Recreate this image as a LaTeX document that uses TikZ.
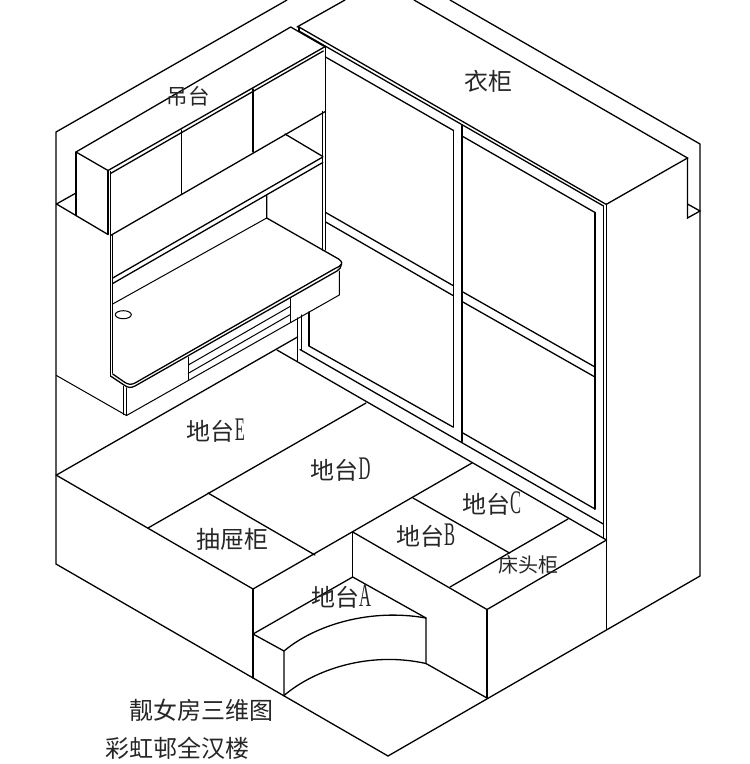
\documentclass[tikz,border=0pt]{standalone}
\usepackage{fontspec}
\setmainfont{Liberation Serif}
\newfontfamily\cjk{Noto Sans CJK SC}
\tikzset{
  ln/.style={line width=1.3pt,line cap=round,line join=miter},
  thk/.style={line width=1.7pt,line cap=round,line join=miter},
  fine/.style={line width=1pt,line cap=round,line join=round},
  lab/.style={inner sep=0pt,text=black!85},
  big/.style={lab,font=\cjk\fontsize{24}{26}\selectfont},
  mid/.style={lab,font=\cjk\fontsize{21.5}{24}\selectfont},
  sml/.style={lab,font=\cjk\fontsize{20}{22}\selectfont}
}
\newcommand{\ltr}[1]{{\fontspec{Liberation Serif}\addfontfeature{FakeStretch=0.5}\fontsize{33}{33}\selectfont #1}}
\begin{document}
\begin{tikzpicture}[x=1pt,y=-1pt]
\useasboundingbox[fill=white] (0,0) rectangle (750,764);
% outer shell
\draw[ln] (287,0) -- (56,132) -- (56,564) -- (388,756) -- (700,576) -- (700,144) -- (450,0);
\draw[ln] (297,27) -- (345,0);
% wardrobe top
\draw[ln] (414,0) -- (687.5,158) -- (606,204.5);
\draw[ln] (687.5,158) -- (687.5,218) -- (700,211) -- (687.5,204);
\draw[ln] (299,27) -- (605.5,204);
\draw[ln] (299,31) -- (603.5,206);
\draw[ln] (299,27) -- (299,31);
\draw[thk] (606.5,204) -- (606.5,629);
\draw[ln] (603.3,206) -- (603.3,538);
% doors
\draw[ln] (325.5,57) -- (453.5,130.5);
\draw[thk] (453.5,130.5) -- (453.5,427);
\draw[thk] (462,125.5) -- (462,441.5);
\draw[ln] (462,136) -- (595,212.5);
\draw[thk] (595,212.5) -- (595,509);
\draw[ln] (325.7,212.5) -- (453,285.5);
\draw[ln] (325.7,222) -- (453,295.5);
\draw[ln] (462,291.5) -- (595,367);
\draw[ln] (462,301.5) -- (595,377);
\draw[ln] (309,346) -- (453,427);
\draw[ln] (462,432.5) -- (595,509);
\draw[ln] (300,349.5) -- (603.3,524);
\draw[ln] (277,350) -- (606.5,540);
\draw[ln] (309,312) -- (309,346);
\draw[ln] (301.5,315) -- (301.5,350);
\draw[ln] (297.5,318) -- (297.5,361.5);
% floor platform
\draw[ln] (56.5,475) -- (297.5,337);
\draw[ln] (56,475) -- (253,589) -- (472,463);
\draw[ln] (366,403) -- (148,528);
\draw[ln] (208,493) -- (315,555);
\draw[ln] (413,498) -- (509.5,553);
\draw[ln] (450,587) -- (568,519);
\draw[ln] (352.7,532) -- (487,609.5) -- (606.5,540);
\draw[ln] (487,609.5) -- (487,698);
% step
\draw[ln] (352.7,532) -- (352.7,577);
\draw[ln] (253,589) -- (253,678);
\draw[ln] (253,634) -- (352.7,577) -- (426,618) -- (426,663.5) -- (487,698);
\draw[ln] (253,634) -- (284,651) -- (284,696);
\draw[ln] (284,651) .. controls (315,625) and (370,608) .. (426,618);
\draw[ln] (284,695.5) .. controls (315,669) and (370,651) .. (426,663.5);
% hutch
\draw[ln] (56.5,204) -- (76,193);
\draw[ln] (56.5,204) -- (108,234.5);
\draw[ln] (76,152) -- (76,215.5);
\draw[ln] (76,152) -- (290.7,27) -- (325.3,47);
\draw[ln] (76,152) -- (108,170.5) -- (325.3,46.5);
\draw[ln] (110.5,173.5) -- (323.3,51);
\draw[ln] (108,170.5) -- (108,234.5);
\draw[ln] (110.5,171.5) -- (110.5,376);
\draw[ln] (112.7,235) -- (112.7,373);
\draw[ln] (110.5,235.5) -- (325.3,111.5);
\draw[ln] (181.7,130) -- (181.7,193.5);
\draw[ln] (253,89) -- (253,152);
\draw[ln] (325.3,46.5) -- (325.3,250);
\draw[ln] (322.8,111.5) -- (322.8,250);
% shelf
\draw[ln] (285,134) -- (322.8,156.5);
\draw[ln] (112.7,278) -- (322.8,157);
\draw[ln] (112.7,283.5) -- (322.8,162.5);
\draw[ln] (266.7,195) -- (266.7,218) -- (322.8,250);
\draw[fine] (112.7,304) -- (266.7,218);
% desk
\draw[ln] (322.8,250) -- (336,257.5) .. controls (340,259.5) and (342.5,262) .. (341.5,264) .. controls (341,266) and (338,267) .. (335,268.5) -- (135,383) .. controls (131,385) and (128.5,384.5) .. (125,382.5) -- (112.7,374);
\draw[ln] (110.5,376) -- (124,385) .. controls (128,388) and (131,388) .. (135,386) -- (337,271) .. controls (340,269.5) and (341,267) .. (341.5,264);
\draw[fine] (339.3,271) -- (339.3,295) -- (126.5,415.5);
\draw[ln] (123.3,386.5) -- (123.3,414.5);
\draw[ln] (126.7,388) -- (126.7,415.5);
\draw[fine] (56.5,375.5) -- (126.5,415.5);
\draw[fine] (188.3,357) -- (188.3,379.5);
\draw[fine] (290,298.5) -- (290,322);
\draw[fine] (188.3,365) -- (290,306.5);
\draw[fine] (188.3,373.3) -- (290,314.7);
\draw[fine] (123.3,314.7) ellipse [x radius=8,y radius=4];
% labels
\node[mid] (ldiao) at (188,96) {吊台};
\node[big] (lyi) at (488,81) {衣柜};
\node[big] (le) at (216,431) {地台\ltr{E}};
\node[big] (ld) at (340.5,470) {地台\ltr{D}};
\node[big] (lc) at (491.5,504) {地台\ltr{C}};
\node[big] (lb) at (425.5,536) {地台\ltr{B}};
\node[big] (la) at (341,597) {地台\ltr{A}};
\node[big] (lchou) at (232.7,539) {抽屉柜};
\node[sml] (lchuang) at (528,564.5) {床头柜};
\node[big] (lt1) at (201.7,710.5) {靓女房三维图};
\node[big] (lt2) at (177.6,748.5) {彩虹邨全汉楼};
\end{tikzpicture}
\end{document}
